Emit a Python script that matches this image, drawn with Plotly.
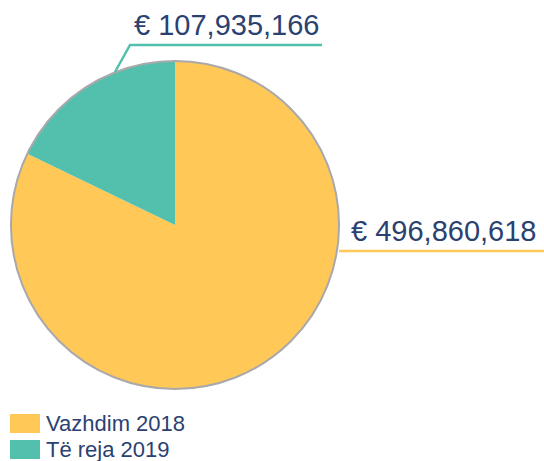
import plotly.graph_objects as go

labels = ["Vazhdim 2018", "Të reja 2019"]
values = [496860618, 107935166]
colors = ["#FFC857", "#52C0AC"]
value_text = ["€ 496,860,618", "€ 107,935,166"]

W, H = 544, 461
def px(x): return x / W
def py(y): return 1 - y / H

dom_x = [px(11), px(339)]
dom_y = [py(389), py(61)]
txt_col = "#2B4170"
font = "Liberation Sans, Arial, sans-serif"

fig = go.Figure()
fig.add_trace(go.Pie(
    labels=labels, values=values, sort=False, direction="clockwise", rotation=0,
    marker=dict(colors=colors, line=dict(width=0)),
    textinfo="none", hoverinfo="label+value", showlegend=False,
    domain=dict(x=dom_x, y=dom_y),
))
fig.add_trace(go.Pie(
    labels=["outline"], values=[1], sort=False,
    marker=dict(colors=["rgba(0,0,0,0)"], line=dict(color="#A9A9AB", width=2)),
    textinfo="none", hoverinfo="skip", showlegend=False,
    domain=dict(x=dom_x, y=dom_y),
))

# leader lines
fig.add_shape(type="path", xref="paper", yref="paper",
              path=f"M{px(115)},{py(72)} L{px(130)},{py(45)} L{px(322)},{py(45)}",
              line=dict(color=colors[1], width=2.5))
fig.add_shape(type="line", xref="paper", yref="paper",
              x0=px(339), y0=py(251), x1=px(544), y1=py(251),
              line=dict(color=colors[0], width=2.5))

fig.add_annotation(x=px(132), y=py(43), xref="paper", yref="paper",
                   text=value_text[1], showarrow=False, xanchor="left", yanchor="bottom",
                   font=dict(family=font, size=29, color=txt_col))
fig.add_annotation(x=px(349), y=py(249), xref="paper", yref="paper",
                   text=value_text[0], showarrow=False, xanchor="left", yanchor="bottom",
                   font=dict(family=font, size=29, color=txt_col))

# legend (swatches + labels)
leg_top = [414, 440]
for i, (lab, col) in enumerate(zip(labels, colors)):
    fig.add_shape(type="rect", xref="paper", yref="paper",
                  x0=px(10), x1=px(40), y0=py(leg_top[i] + 19), y1=py(leg_top[i]),
                  fillcolor=col, line=dict(width=0))
    fig.add_annotation(x=px(44), y=py(leg_top[i] + 9.5), xref="paper", yref="paper",
                       text=lab, showarrow=False, xanchor="left", yanchor="middle",
                       font=dict(family=font, size=22, color=txt_col))

fig.update_layout(
    width=W, height=H, margin=dict(l=0, r=0, t=0, b=0),
    paper_bgcolor="white", plot_bgcolor="white",
    showlegend=False,
)
fig.write_html("out.html", config={"displayModeBar": False},
               post_script="document.body.style.margin='0';document.body.style.overflow='hidden';")
